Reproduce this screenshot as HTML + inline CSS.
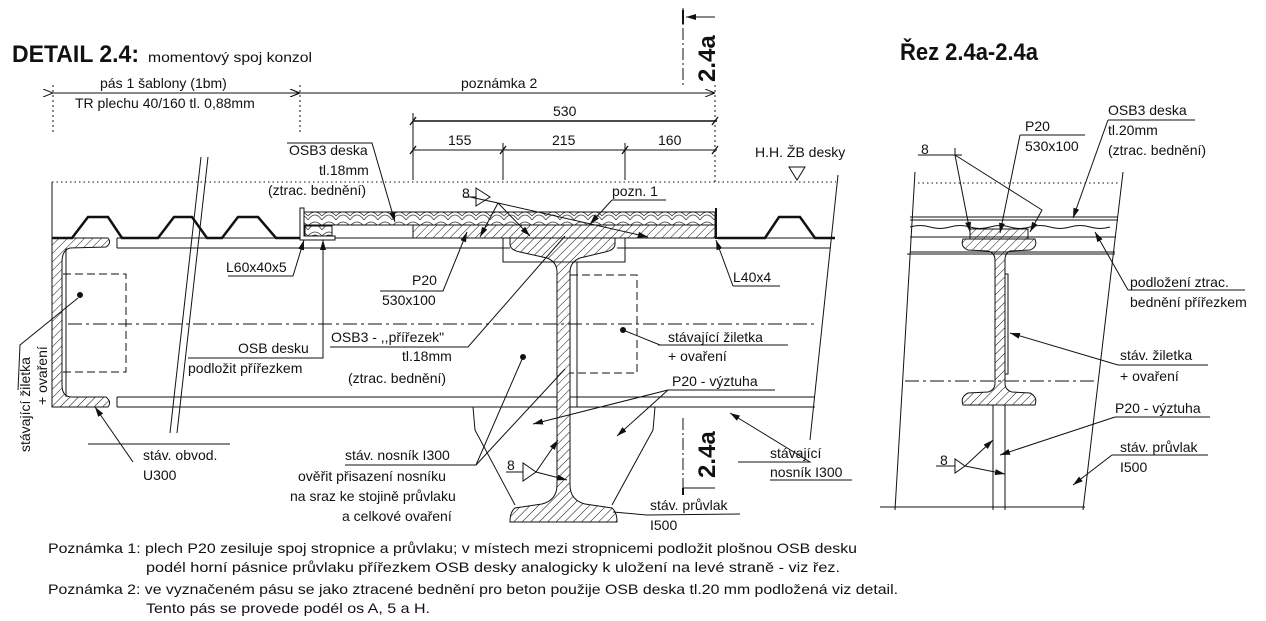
<!DOCTYPE html>
<html><head><meta charset="utf-8"><style>
html,body{margin:0;padding:0;background:#fff;}
svg{display:block}
text{font-family:"Liberation Sans",sans-serif;fill:#111;}
</style></head><body>
<svg width="1266" height="621" viewBox="0 0 1266 621" xmlns="http://www.w3.org/2000/svg">
<defs>
<pattern id="h" width="6" height="6" patternUnits="userSpaceOnUse" patternTransform="rotate(45)"><line x1="0" y1="0" x2="0" y2="6" stroke="#111" stroke-width="1"/></pattern>
<pattern id="w" width="14" height="10" patternUnits="userSpaceOnUse"><path d="M0,10 Q7,0 14,10 M0,6 Q7,-2 14,6" fill="none" stroke="#333" stroke-width="0.7"/></pattern>
<marker id="a" markerWidth="10" markerHeight="6" refX="10" refY="3" orient="auto" markerUnits="userSpaceOnUse"><path d="M0,0 L10,3 L0,6z" fill="#111"/></marker>
<marker id="o" markerWidth="10" markerHeight="8" refX="10" refY="4" orient="auto" markerUnits="userSpaceOnUse"><path d="M0,0 L10,4 L0,8" fill="none" stroke="#111"/></marker>
</defs>
<text x="12" y="62" font-size="24" font-weight="bold" textLength="127" lengthAdjust="spacingAndGlyphs">DETAIL 2.4:</text>
<text x="148" y="62" font-size="14" textLength="164" lengthAdjust="spacingAndGlyphs">momentový spoj konzol</text>
<text x="900" y="60" font-size="24" font-weight="bold" textLength="138" lengthAdjust="spacingAndGlyphs">Řez 2.4a-2.4a</text>

<g stroke="#111" fill="none" stroke-width="1">
<line x1="53" y1="93" x2="300" y2="93" marker-end="url(#o)" marker-start="url(#o)"/>
<line x1="300" y1="93" x2="715" y2="93" marker-start="url(#o)" marker-end="url(#o)"/>
<g stroke-dasharray="2,3"><line x1="53" y1="85" x2="53" y2="133"/><line x1="300" y1="85" x2="300" y2="133"/><line x1="715" y1="85" x2="715" y2="182"/></g>
<line x1="683" y1="8" x2="683" y2="88" stroke-dasharray="12,3,2,3"/>
<line x1="715" y1="17" x2="686" y2="17" marker-end="url(#a)"/>
<line x1="683" y1="10" x2="683" y2="24" stroke-width="2"/>
<line x1="413" y1="121" x2="717" y2="121" stroke-width="1.5"/>
<line x1="413" y1="150" x2="717" y2="150"/>
<line x1="413" y1="113" x2="413" y2="180"/>
<line x1="503" y1="143" x2="503" y2="180"/>
<line x1="625" y1="143" x2="625" y2="180"/>
<g stroke-width="1.3"><line x1="410" y1="125" x2="416" y2="117"/><line x1="712" y1="125" x2="718" y2="117"/><line x1="410" y1="154" x2="416" y2="146"/><line x1="500" y1="154" x2="506" y2="146"/><line x1="622" y1="154" x2="628" y2="146"/><line x1="712" y1="154" x2="718" y2="146"/></g>
<path d="M789,167 L805,167 L797,180z"/>
<line x1="52" y1="182" x2="836" y2="182" stroke-dasharray="1.5,3"/>
<line x1="52" y1="182" x2="52" y2="240"/>
<line x1="838" y1="175" x2="810" y2="440"/>
<line x1="201" y1="157" x2="170" y2="433"/><line x1="208" y1="157" x2="177" y2="433"/>
<path d="M52,238 L72,238 L88,217 L108,217 L122,238 L158,238 L174,217 L192,217 L207,238 L222,238 L238,217 L258,217 L276,238 L305,238" stroke-width="2.5"/>
<path d="M718,238 L765,238 L779,217 L800,217 L815,238 L835,238" stroke-width="2.5"/>
<line x1="117" y1="238" x2="510" y2="238"/><line x1="117" y1="248" x2="510" y2="248"/>
<line x1="617" y1="238" x2="835" y2="238"/><line x1="617" y1="248" x2="830" y2="248"/>
<line x1="117" y1="397" x2="557" y2="397"/><line x1="117" y1="407" x2="557" y2="407"/>
<line x1="570" y1="397" x2="815" y2="397"/><line x1="570" y1="407" x2="815" y2="407"/>
<line x1="117" y1="238" x2="117" y2="248"/><line x1="117" y1="397" x2="117" y2="407"/>
<line x1="68" y1="324" x2="815" y2="324" stroke-dasharray="14,4,3,4"/>
<path d="M52,238 L108,238 Q112,243 106,247 L70,248 Q62,250 62,262 L62,385 Q62,397 72,397 L106,397 Q112,402 108,407 L52,407z" fill="url(#h)"/>
<path d="M66,248 L66,397"/>
<path d="M63,274 L126,274 L126,372 L63,372" stroke-dasharray="8,4"/>
<circle cx="80" cy="295" r="2.5" fill="#111"/>
<rect x="303" y="212" width="412" height="13" fill="url(#w)"/>
<rect x="303" y="212" width="412" height="13"/>
<rect x="413" y="225" width="302" height="13" fill="url(#h)"/>
<path d="M300,208 L300,240 L335,240 L335,236 L304,236 L304,208z" fill="#fff"/>
<path d="M716,208 L716,238 L738,238" stroke-width="2"/>
<rect x="305" y="226" width="27" height="10" fill="url(#w)"/>
<path d="M510,238 L615,238 L615,244 Q615,250 605,252 L580,258 Q570,262 570,272 L570,485 Q570,500 585,504 L612,508 Q617,512 617,522 L510,522 Q510,512 515,508 L542,504 Q557,500 557,485 L557,272 Q557,262 547,258 L520,252 Q510,250 510,244z" fill="url(#h)"/>
<path d="M503,238 L503,262 L625,262 L625,238"/>
<line x1="577" y1="262" x2="577" y2="407"/>
<path d="M570,275 L637,275 L637,373 L570,373" stroke-dasharray="8,4"/>
<circle cx="623" cy="330" r="2.5" fill="#111"/>
<circle cx="523" cy="357" r="2.5" fill="#111"/>
<path d="M473,407 L475,430 L515,505"/><path d="M655,407 L653,430 L612,505"/>
<line x1="683" y1="418" x2="683" y2="493" stroke-dasharray="12,3,2,3"/>
<line x1="683" y1="488" x2="715" y2="488"/>
<line x1="683" y1="488" x2="683" y2="495" stroke-width="2"/>
<!-- leaders -->
<path d="M287,143 L372,143 L395,222" marker-end="url(#a)"/>
<path d="M228,276 L293,276 L304,240" marker-end="url(#a)"/>
<path d="M380,291 L443,291 L467,232" marker-end="url(#a)"/>
<path d="M188,358 L323,358 L323,240" marker-end="url(#a)"/>
<path d="M330,347 L468,347 L565,236"/>
<path d="M470,197 L498,203 L530,236" marker-end="url(#a)"/>
<path d="M498,203 L480,237" marker-end="url(#a)"/>
<path d="M498,203 L648,237" marker-end="url(#a)"/>
<path d="M463,197 L476,197"/>
<path d="M476,188 L476,206 L490,197z"/>
<path d="M612,200 L666,200"/><path d="M612,200 L590,224" marker-end="url(#a)"/>
<path d="M733,286 L780,286"/><path d="M733,286 L716,240" marker-end="url(#a)"/>
<path d="M660,345 L623,330"/><path d="M658,345 L788,345"/>
<path d="M668,390 L533,424" marker-end="url(#a)"/><path d="M668,390 L617,436" marker-end="url(#a)"/>
<path d="M668,390 L775,390"/>
<path d="M345,465 L476,465 L523,357"/>
<path d="M476,465 L565,369"/>
<path d="M506,472 L523,472"/><path d="M523,463 L523,481 L536,472z"/>
<path d="M536,472 L558,440" marker-end="url(#a)"/><path d="M536,472 L567,480" marker-end="url(#a)"/>
<path d="M738,462 L810,462 L730,413" marker-end="url(#a)"/>
<path d="M770,480 L852,480"/>
<path d="M613,512 L647,515 L740,514"/>
<path d="M88,444 L230,444"/>
<path d="M133,462 L95,407" marker-end="url(#a)"/>
<path d="M18,390 L20,345 L78,298"/>
<!-- right section -->
<line x1="915" y1="172" x2="895" y2="510"/>
<line x1="1123" y1="172" x2="1083" y2="510"/>
<line x1="918" y1="183" x2="1120" y2="183" stroke-dasharray="1.5,3"/>
<line x1="910" y1="217" x2="1118" y2="217"/><line x1="910" y1="220" x2="1118" y2="220"/>
<path d="M910,227 Q920,224 930,227 T950,227 T970,227 T990,227 T1010,227 T1030,227 T1050,227 T1070,227 T1090,227 T1110,227"/>
<line x1="910" y1="237" x2="1116" y2="237"/>
<line x1="910" y1="252" x2="1115" y2="252"/>
<line x1="907" y1="254" x2="1115" y2="254"/>
<rect x="970" y="229" width="58" height="10" fill="url(#h)"/>
<path d="M963,239 L1035,239 Q1038,247 1030,250 L1010,251 Q1005,253 1005,260 L1005,383 Q1005,390 1012,392 L1030,393 Q1038,397 1035,405 L963,405 Q960,397 968,393 L988,392 Q995,390 995,383 L995,260 Q995,253 988,251 L968,250 Q960,247 963,239z" fill="url(#h)"/>
<rect x="1005" y="274" width="3" height="100"/>
<line x1="905" y1="381" x2="1098" y2="381" stroke-dasharray="14,4,3,4"/>
<line x1="993" y1="405" x2="993" y2="510"/><line x1="1005" y1="405" x2="1005" y2="510"/>
<line x1="880" y1="507" x2="1085" y2="507"/>
<path d="M918,155 L958,155"/><path d="M955,148 L955,155 L962,155"/>
<path d="M955,155 L970,232" marker-end="url(#a)"/><path d="M955,155 L1042,210 L1030,232" marker-end="url(#a)"/>
<path d="M1020,135 L1085,135"/><path d="M1020,135 L1000,233" marker-end="url(#a)"/>
<path d="M1108,120 L1195,120"/><path d="M1108,120 L1073,218" marker-end="url(#a)"/>
<path d="M1128,290 L1245,290"/><path d="M1128,290 L1095,232" marker-end="url(#a)"/>
<path d="M1118,365 L1208,365"/><path d="M1118,365 L1010,333" marker-end="url(#a)"/>
<path d="M1115,417 L1210,417"/><path d="M1115,417 L1000,455" marker-end="url(#a)"/>
<path d="M1112,455 L1208,455"/><path d="M1112,455 L1073,485" marker-end="url(#a)"/>
<path d="M936,466 L955,466"/><path d="M955,459 L955,473 L965,466z"/>
<path d="M965,466 L993,440" marker-end="url(#a)"/><path d="M965,466 L1005,474" marker-end="url(#a)"/>
</g>
<g font-size="14">
<text x="100" y="88">pás 1 šablony (1bm)</text>
<text x="75" y="108">TR plechu 40/160 tl. 0,88mm</text>
<text x="461" y="88">poznámka 2</text>
<text x="553" y="116">530</text>
<text x="448" y="145">155</text>
<text x="552" y="145">215</text>
<text x="658" y="145">160</text>
<text x="755" y="157">H.H. ŽB desky</text>
<text x="289" y="155">OSB3 deska</text>
<text x="319" y="175">tl.18mm</text>
<text x="268" y="195">(ztrac. bednění)</text>
<text x="462" y="198">8</text>
<text x="612" y="196">pozn. 1</text>
<text x="226" y="272">L60x40x5</text>
<text x="412" y="285">P20</text>
<text x="382" y="305">530x100</text>
<text x="733" y="282">L40x4</text>
<text x="331" y="342">OSB3 - ,,přířezek"</text>
<text x="402" y="361">tl.18mm</text>
<text x="348" y="383">(ztrac. bednění)</text>
<text x="238" y="353">OSB desku</text>
<text x="188" y="373">podložit přířezkem</text>
<text x="668" y="342">stávající žiletka</text>
<text x="668" y="361">+ ovaření</text>
<text x="672" y="386">P20 - výztuha</text>
<text x="770" y="458">stávající</text>
<text x="770" y="477">nosník I300</text>
<text x="143" y="460">stáv. obvod.</text>
<text x="143" y="480">U300</text>
<text x="345" y="460">stáv. nosník I300</text>
<text x="298" y="481">ověřit přisazení nosníku</text>
<text x="290" y="501">na sraz ke stojině průvlaku</text>
<text x="342" y="521">a celkové ovaření</text>
<text x="507" y="470">8</text>
<text x="650" y="510">stáv. průvlak</text>
<text x="650" y="530">I500</text>
<text x="1025" y="131">P20</text>
<text x="1025" y="151">530x100</text>
<text x="1108" y="115">OSB3 deska</text>
<text x="1108" y="135">tl.20mm</text>
<text x="1108" y="155">(ztrac. bednění)</text>
<text x="921" y="154">8</text>
<text x="1130" y="287">podložení ztrac.</text>
<text x="1130" y="307">bednění přířezkem</text>
<text x="1120" y="360">stáv. žiletka</text>
<text x="1120" y="381">+ ovaření</text>
<text x="1115" y="413">P20 - výztuha</text>
<text x="1120" y="452">stáv. průvlak</text>
<text x="1120" y="472">I500</text>
<text x="940" y="465">8</text>
<text transform="translate(30,452) rotate(-90)">stávající žiletka</text>
<text transform="translate(47,405) rotate(-90)">+ ovaření</text>
</g>
<text transform="translate(715,82) rotate(-90)" font-size="24" font-weight="bold">2.4a</text>
<text transform="translate(715,478) rotate(-90)" font-size="24" font-weight="bold">2.4a</text>
<g font-size="14">
<text x="48" y="553" textLength="809" lengthAdjust="spacingAndGlyphs">Poznámka 1: plech P20 zesiluje spoj stropnice a průvlaku; v místech mezi stropnicemi podložit plošnou OSB desku</text>
<text x="146" y="572" textLength="694" lengthAdjust="spacingAndGlyphs">podél horní pásnice průvlaku přířezkem OSB desky analogicky k uložení na levé straně - viz řez.</text>
<text x="48" y="594" textLength="850" lengthAdjust="spacingAndGlyphs">Poznámka 2: ve vyznačeném pásu se jako ztracené bednění pro beton použije OSB deska tl.20 mm podložená viz detail.</text>
<text x="146" y="613" textLength="284" lengthAdjust="spacingAndGlyphs">Tento pás se provede podél os A, 5 a H.</text>
</g>
</svg>
</body></html>
